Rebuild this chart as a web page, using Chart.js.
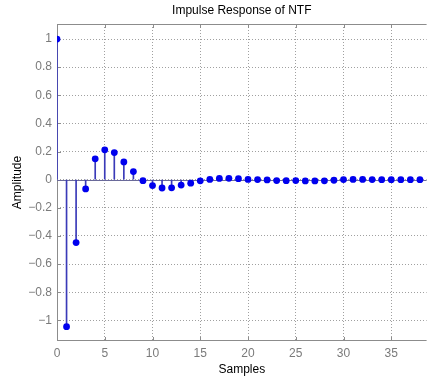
<!DOCTYPE html>
<html>
<head>
<meta charset="utf-8">
<script src="https://cdn.jsdelivr.net/npm/chart.js@4/dist/chart.umd.min.js"></script>
<style>
  html, body { margin: 0; padding: 0; background: #fff; overflow: hidden; }
  #wrap { width: 430px; height: 377px; }
</style>
</head>
<body>
<div id="wrap"><canvas id="c" width="430" height="377"></canvas></div>
<script>
// impulse response samples
const samples = [0, 1, 2, 3, 4, 5, 6, 7, 8, 9, 10, 11, 12, 13, 14, 15, 16, 17, 18, 19,
  20, 21, 22, 23, 24, 25, 26, 27, 28, 29, 30, 31, 32, 33, 34, 35, 36, 37, 38];
const amplitude = [1, -1.045, -0.447, -0.066, 0.148, 0.212, 0.193, 0.126, 0.058, -0.007,
  -0.042, -0.059, -0.058, -0.038, -0.025, -0.008, 0.002, 0.009, 0.01, 0.007,
  0.002, 0.001, -0.002, -0.006, -0.007, -0.006, -0.009, -0.009, -0.008, -0.004,
  0.001, 0.002, 0.002, 0.001, 0, 0, 0, 0, 0];
const xTicks = [0, 5, 10, 15, 20, 25, 30, 35];
const yTicks = [-1, -0.8, -0.6, -0.4, -0.2, 0, 0.2, 0.4, 0.6, 0.8, 1];

const points = samples.map((s, i) => ({ x: s, y: amplitude[i] }));
const stems = samples.map((s, i) => ({ x: s, y: [0, amplitude[i]] }));

const axisGrey = '#8c8c8c';

// baseline at zero, solid box edges and inward tick marks, like a matlab stem plot
const stemExtras = {
  id: 'stemExtras',
  beforeDatasetsDraw(chart) {
    const { ctx, chartArea: a, scales: { x, y } } = chart;
    ctx.save();
    ctx.lineWidth = 1;

    ctx.strokeStyle = axisGrey;
    ctx.beginPath();
    x.ticks.forEach(t => {
      const px = Math.round(x.getPixelForValue(t.value)) + 0.5;
      ctx.moveTo(px, a.bottom); ctx.lineTo(px, a.bottom - 4);
      ctx.moveTo(px, a.top); ctx.lineTo(px, a.top + 4);
    });
    y.ticks.forEach(t => {
      const py = Math.round(y.getPixelForValue(t.value)) + 0.5;
      ctx.moveTo(a.left, py); ctx.lineTo(a.left + 4, py);
    });
    const l = Math.round(a.left) + 0.5;
    const tp = Math.round(a.top) + 0.5;
    const b = Math.round(a.bottom) - 0.5;
    ctx.moveTo(l, tp); ctx.lineTo(a.right, tp);
    ctx.moveTo(l, tp); ctx.lineTo(l, b);
    ctx.moveTo(l, b); ctx.lineTo(a.right, b);
    ctx.stroke();

    ctx.strokeStyle = '#6a6a9a';
    const y0 = Math.round(y.getPixelForValue(0)) + 0.5;
    ctx.beginPath();
    ctx.moveTo(a.left, y0);
    ctx.lineTo(a.right, y0);
    ctx.stroke();
    ctx.restore();
  }
};

new Chart(document.getElementById('c'), {
  data: {
    datasets: [
      {
        type: 'scatter',
        data: points,
        backgroundColor: '#0000ee',
        borderColor: '#0000ee',
        borderWidth: 0,
        pointRadius: 3.4,
        pointHoverRadius: 3.4,
        order: 0
      },
      {
        type: 'bar',
        data: stems,
        backgroundColor: '#3a3ab8',
        barThickness: 1,
        order: 1
      }
    ]
  },
  options: {
    responsive: false,
    animation: false,
    layout: { padding: 0 },
    plugins: {
      legend: { display: false },
      tooltip: { enabled: false },
      title: {
        display: true,
        text: 'Impulse Response of NTF',
        fullSize: false,
        color: '#000',
        font: { family: 'Liberation Sans', size: 12, weight: 'normal' },
        padding: { top: 3, bottom: 6.6 }
      }
    },
    scales: {
      x: {
        type: 'linear',
        offset: false,
        min: 0,
        max: 38.7,
        afterBuildTicks: s => { s.ticks = xTicks.map(v => ({ value: v })); },
        afterFit: s => { s.height = 36; },
        grid: { color: '#a0a0a0', drawTicks: false, offset: false, lineWidth: 1 },
        border: { display: false, dash: [1, 2] },
        ticks: {
          color: '#7a7a7a',
          padding: 5,
          maxRotation: 0,
          font: { family: 'Liberation Sans', size: 12 }
        },
        title: {
          display: true,
          text: 'Samples',
          color: '#000',
          padding: { top: 0, bottom: 0 },
          font: { family: 'Liberation Sans', size: 12 }
        }
      },
      y: {
        type: 'linear',
        min: -1.147,
        max: 1.107,
        afterBuildTicks: s => { s.ticks = yTicks.map(v => ({ value: v })); },
        afterFit: s => { s.width = 57; },
        grid: { color: '#a0a0a0', drawTicks: false, lineWidth: 1 },
        border: { display: false, dash: [1, 2] },
        ticks: {
          color: '#7a7a7a',
          padding: 5,
          font: { family: 'Liberation Sans', size: 12 },
          callback: v => (Math.abs(v) < 1e-9 ? '0' : String(Math.round(v * 10) / 10)).replace('-', '\u2212')
        },
        title: {
          display: true,
          text: 'Amplitude',
          color: '#000',
          padding: { top: 10, bottom: 0 },
          font: { family: 'Liberation Sans', size: 12 }
        }
      }
    }
  },
  plugins: [stemExtras]
});
</script>
</body>
</html>
